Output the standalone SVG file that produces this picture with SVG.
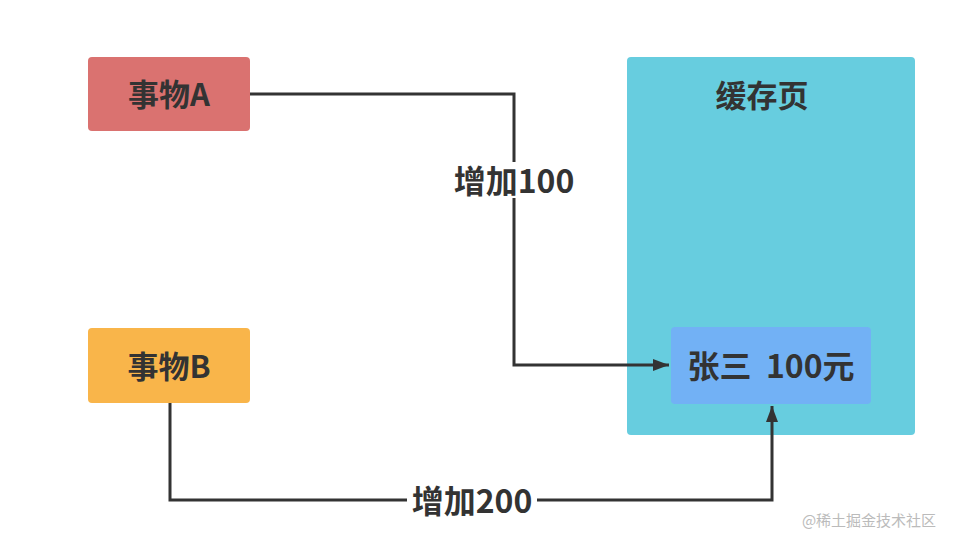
<svg xmlns="http://www.w3.org/2000/svg" width="956" height="542" viewBox="0 0 956 542">
<defs>
<style>
.t{font-family:"Noto Sans CJK SC","Liberation Sans",sans-serif;font-weight:bold;fill:#333;text-anchor:middle;dominant-baseline:central}
.ln{fill:none;stroke:#333;stroke-width:3}
</style>
<marker id="ah" viewBox="0 0 16 12" refX="16" refY="6" markerWidth="16" markerHeight="12" markerUnits="userSpaceOnUse" orient="auto">
<path d="M0,0 L16,6 L0,12 Z" fill="#333"/>
</marker>
</defs>
<rect width="956" height="542" fill="#fff"/>
<g id="nodeA"><rect x="88" y="57" width="162" height="74" rx="4" fill="#DA7270"/><text class="t" x="169" y="92" font-size="31">事物A</text></g>
<g id="nodeB"><rect x="88" y="328" width="162" height="75" rx="4" fill="#F9B54A"/><text class="t" x="169" y="364" font-size="31">事物B</text></g>
<g id="cache"><rect x="627" y="57" width="288" height="378" rx="4" fill="#67CDDF"/><text class="t" x="762" y="93" font-size="31">缓存页</text></g>
<g id="record"><rect x="671" y="327" width="200" height="77" rx="4" fill="#72B1F5"/><text class="t" x="771" y="364" font-size="32" xml:space="preserve">张三  100元</text></g>
<g id="connectors">
<path class="ln" d="M250,94 H514 V365 H669" marker-end="url(#ah)"/>
<path class="ln" d="M170,403 V500 H772 V406" marker-end="url(#ah)"/>
<rect x="449" y="162" width="130" height="36" fill="#fff"/>
<text class="t" x="514" y="179" font-size="32">增加100</text>
<rect x="407" y="482" width="130" height="36" fill="#fff"/>
<text class="t" x="472" y="499" font-size="32">增加200</text>
</g>
<text x="869" y="526" font-family="Noto Sans CJK SC,sans-serif" font-size="15" fill="#bbb" text-anchor="middle">@稀土掘金技术社区</text>
</svg>
